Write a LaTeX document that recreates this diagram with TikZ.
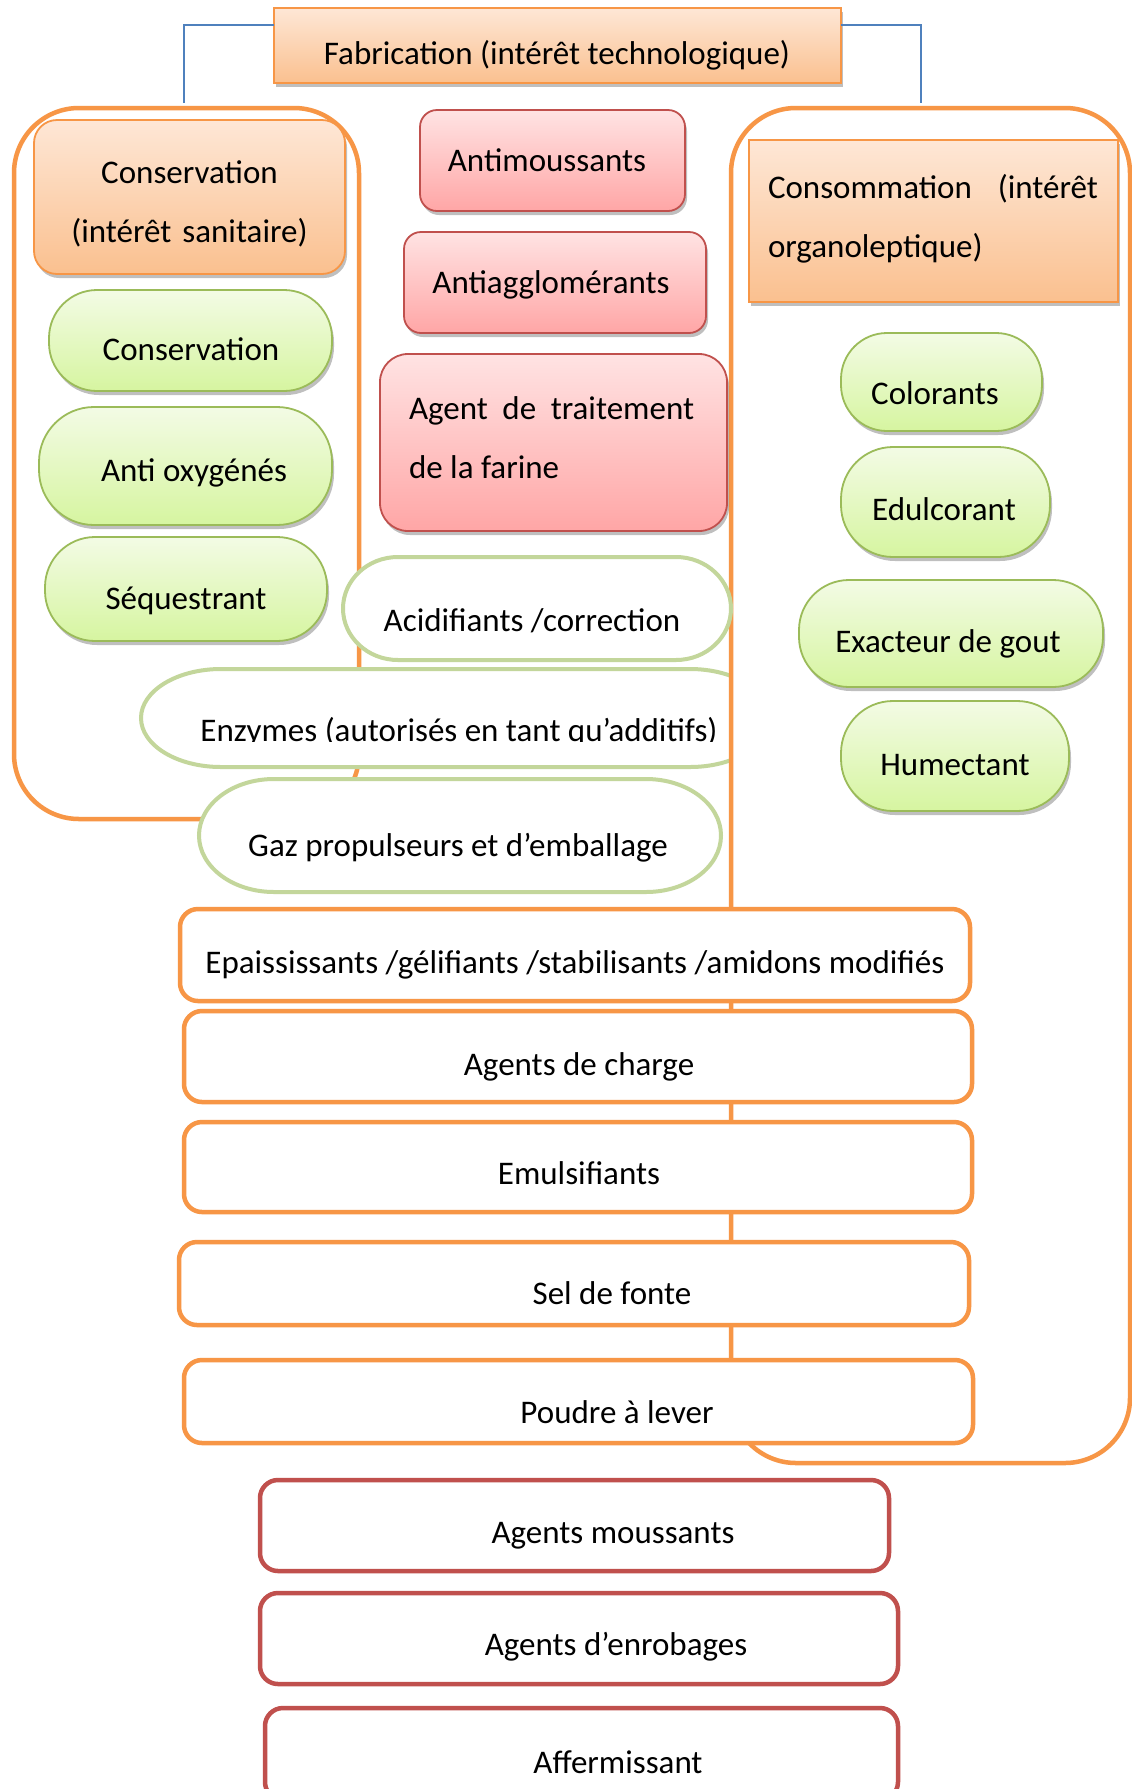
\documentclass[tikz,border=0pt]{standalone}
\usepackage{fontspec}
\setmainfont{Carlito}
\usetikzlibrary{shadows,calc}
\definecolor{orng}{HTML}{F79646}
\definecolor{blueln}{HTML}{4F81BD}
\definecolor{grnb}{HTML}{9BBB59}
\definecolor{grnl}{HTML}{C3D69B}
\definecolor{redb}{HTML}{C0504D}
\definecolor{otop}{HTML}{FEE7D6}
\definecolor{obot}{HTML}{FAC08F}
\definecolor{rtop}{HTML}{FFE3E3}
\definecolor{rbot}{HTML}{FFA6A6}
\definecolor{gtop}{HTML}{F3FBE5}
\definecolor{gbot}{HTML}{D6F5A0}
\tikzset{
  shad/.style={drop shadow={shadow xshift=2pt,shadow yshift=-4pt,opacity=0.25,fill=black}},
  boxbase/.style={inner sep=0pt,outer sep=0pt},
  obox/.style={boxbase,shad,draw=orng,line width=1.8pt,top color=otop,bottom color=obot},
  rbox/.style={boxbase,shad,draw=redb,line width=1.8pt,top color=rtop,bottom color=rbot,rounded corners=17pt},
  gpill/.style={boxbase,shad,draw=grnb,line width=1.8pt,top color=gtop,bottom color=gbot},
  wpill/.style={draw=grnl,line width=4pt,fill=white},
  owbox/.style={boxbase,draw=orng,line width=4.5pt,fill=white,rounded corners=18pt},
  rwbox/.style={boxbase,draw=redb,line width=4.5pt,fill=white,rounded corners=18pt},
  contnr/.style={boxbase,draw=orng,line width=4.5pt,rounded corners=65pt},
  blueline/.style={draw=blueln,line width=1.5pt},
  lbl/.style={inner sep=0pt,outer sep=0pt,font=\fontsize{33}{59}\selectfont}
}
\begin{document}
\begin{tikzpicture}[x=1pt,y=-1pt]
\useasboundingbox (0,0) rectangle (1132,1789);
\fill[white] (0,0) rectangle (1132,1789);

% left container
\node[contnr,minimum width=345,minimum height=711] (leftc) at (186.5,463.5) {};

% Enzymes pill (under right container)
\draw[wpill] (221,669) -- (690,669) arc[start angle=90,end angle=-90,x radius=80pt,y radius=49pt] -- (221,767) arc[start angle=270,end angle=90,x radius=80pt,y radius=49pt] -- cycle;
\begin{scope}
\clip (100,600) rectangle (800,741);
\node[lbl,anchor=base] (t-enz) at (459,741) {Enzymes (autorisés en tant qu’additifs)};
\end{scope}

% right container
\node[contnr,fill=white,minimum width=399,minimum height=1355] (rightc) at (930.5,785.5) {};

% top
\node[obox,minimum width=567,minimum height=75] (fab) at (557.5,45.5) {};
\node[lbl,anchor=base] (t-fab) at (557,64) {Fabrication (intérêt technologique)};
\coordinate (blL) at (184,103);
\coordinate (blR) at (921,103);
\draw[blueline] ($(fab.north west)+(0,17)$) -| (blL);
\draw[blueline] ($(fab.north east)+(0,17)$) -| (blR);

% left column
\node[obox,rounded corners=23pt,minimum width=311,minimum height=154] (cons) at (189.5,197) {};
\node[lbl,anchor=base,text width=311pt,align=center] (t-cons) at (189.5,183.5) {Conservation\\(intérêt sanitaire)};
\node[gpill,rounded corners=48pt,minimum width=283,minimum height=101] (g1) at (190.5,340.5) {};
\node[lbl,anchor=base] (t-g1) at (191,360) {Conservation};
\node[gpill,rounded corners=55pt,minimum width=293,minimum height=118] (g2) at (185.5,466) {};
\node[lbl,anchor=base] (t-g2) at (194,481) {Anti oxygénés};
\node[gpill,rounded corners=50pt,minimum width=282,minimum height=104] (g3) at (186,589) {};
\node[lbl,anchor=base] (t-g3) at (186,609) {Séquestrant};

% middle column
\node[rbox,minimum width=265,minimum height=101] (r1) at (552.5,160.5) {};
\node[lbl,anchor=base] (t-r1) at (547,171) {Antimoussants};
\node[rbox,minimum width=302,minimum height=101] (r2) at (555,282.5) {};
\node[lbl,anchor=base] (t-r2) at (551,293) {Antiagglomérants};
\node[rbox,rounded corners=28pt,minimum width=347,minimum height=177] (r3) at (553.5,442.5) {};
\node[lbl,anchor=base west,text width=285pt,align=justify] (t-r3) at (409,419) {Agent de traitement\linebreak de la farine};

% right column
\node[obox,minimum width=369,minimum height=162] (conso) at (933.5,221) {};
\node[lbl,anchor=base west,text width=330pt,align=justify] (t-conso) at (768,198) {Consommation (intérêt\linebreak organoleptique)};
\node[gpill,rounded corners=46pt,minimum width=201,minimum height=98] (g4) at (941.5,382) {};
\node[lbl,anchor=base] (t-g4) at (935,404) {Colorants};
\node[gpill,rounded corners=52pt,minimum width=209,minimum height=110] (g5) at (945.5,502) {};
\node[lbl,anchor=base] (t-g5) at (944,520) {Edulcorant};
\node[gpill,rounded corners=50pt,minimum width=304,minimum height=107] (g6) at (951,633.5) {};
\node[lbl,anchor=base] (t-g6) at (948,652) {Exacteur de gout};
\node[gpill,rounded corners=52pt,minimum width=228,minimum height=110] (g7) at (955,756) {};
\node[lbl,anchor=base] (t-g7) at (955,775) {Humectant};

% white pills
\draw[wpill] (398,557) -- (676,557) arc[start angle=90,end angle=-90,x radius=55pt,y radius=51.5pt] -- (398,660) arc[start angle=270,end angle=90,x radius=55pt,y radius=51.5pt] -- cycle;
\node[lbl,anchor=base] (t-acid) at (532,631) {Acidifiants /correction};
\draw[wpill] (274,779) -- (646,779) arc[start angle=90,end angle=-90,x radius=75pt,y radius=56.5pt] -- (274,892) arc[start angle=270,end angle=90,x radius=75pt,y radius=56.5pt] -- cycle;
\node[lbl,anchor=base] (t-gaz) at (458,856) {Gaz propulseurs et d’emballage};

% orange white boxes
\node[owbox,minimum width=790,minimum height=92] (o1) at (575,955) {};
\node[lbl,anchor=base] (t-o1) at (575,973) {Epaississants /gélifiants /stabilisants /amidons modifiés};
\node[owbox,minimum width=788,minimum height=91] (o2) at (578,1056.5) {};
\node[lbl,anchor=base] (t-o2) at (579,1075) {Agents de charge};
\node[owbox,minimum width=788,minimum height=90] (o3) at (578,1167) {};
\node[lbl,anchor=base] (t-o3) at (579,1184) {Emulsifiants};
\node[owbox,minimum width=790,minimum height=83] (o4) at (574,1283.5) {};
\node[lbl,anchor=base] (t-o4) at (612,1304) {Sel de fonte};
\node[owbox,minimum width=789,minimum height=83] (o5) at (578.5,1401.5) {};
\node[lbl,anchor=base] (t-o5) at (617,1423) {Poudre à lever};

% red white boxes
\node[rwbox,minimum width=629,minimum height=91] (w1) at (574.5,1525.5) {};
\node[lbl,anchor=base] (t-w1) at (613,1543) {Agents moussants};
\node[rwbox,minimum width=638,minimum height=91] (w2) at (579,1638.5) {};
\node[lbl,anchor=base] (t-w2) at (616,1655) {Agents d’enrobages};
\node[rwbox,minimum width=633,minimum height=92] (w3) at (581.5,1754) {};
\node[lbl,anchor=base] (t-w3) at (618,1773) {Affermissant};
\end{tikzpicture}
\end{document}
